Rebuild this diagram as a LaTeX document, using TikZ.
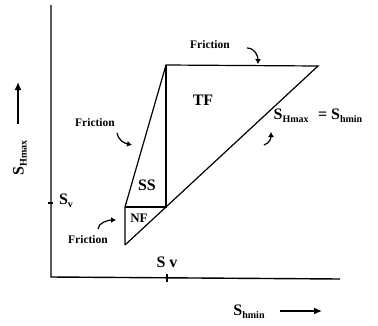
\documentclass[tikz,border=0pt]{standalone}
\usepackage{fontspec}
\setmainfont{Liberation Serif}
\usetikzlibrary{arrows.meta}
\newcommand{\lowsub}[1]{{\fontsize{10}{11}\selectfont\raisebox{-3pt}{#1}}}

\begin{document}
\begin{tikzpicture}[x=1pt,y=-1pt, every node/.style={font=\bfseries\fontsize{13}{15}\selectfont,inner sep=0pt},
  ax/.style={line width=1.4pt}, ln/.style={line width=1.2pt},
  axarr/.style={line width=1.4pt,-{Latex[length=8pt,width=7pt]}},
  farr/.style={line width=1.2pt,-{Latex[length=5pt,width=6pt]}},
  big/.style={font=\bfseries\fontsize{16}{18}\selectfont}, fric/.style={font=\bfseries\fontsize{11.5}{13}\selectfont}]
\useasboundingbox (0,0) rectangle (378,325);
% axes
\coordinate (O) at (51,277); \coordinate (ytop) at (51,5); \coordinate (xend) at (340,279);
\draw[ax] (ytop)--(O)--(xend);
\coordinate (tx) at (167,278); \coordinate (ty) at (51,203);
\draw[ln] (tx)++(0,-4)--++(0,8); \draw[ln] (ty)++(-3,0)--++(5,0);
% stress polygon
\coordinate (A) at (125,245); \coordinate (B) at (125,207); \coordinate (C) at (166,65);
\coordinate (D) at (318,66); \coordinate (E) at (166,207);
\draw[ln] (A)--(B)--(C)--(D)--(A); \draw[ln] (C)--(E)--(B);
% regime labels
\node[big] (tf) at (203,100) {TF};
\node[big] (ss) at (147,185) {SS};
\node (nf) at (139,218) {NF};
\node[big] (sv1) at (66,201) {S\lowsub{v}};
\node[big] (sv2) at (167,262) {S v};
\node[big] (eq) at (318,116) {S\lowsub{Hmax}\,\, = S\lowsub{hmin}};
% friction notes
\node[fric] (fr1) at (210,45) {Friction};
\node[fric] (fr2) at (95,123) {Friction};
\node[fric] (fr3) at (88,240) {Friction};
\coordinate (f1s) at (247,48); \coordinate (f1e) at (258,64);
\coordinate (f2s) at (117,133); \coordinate (f2e) at (132,145);
\coordinate (f3s) at (98,229); \coordinate (f3e) at (116,220);
\coordinate (f4s) at (264,145); \coordinate (f4e) at (271,132);
\draw[farr] (f1s) .. controls +(8,0) and +(0,-8) .. (f1e);
\draw[farr] (f2s) .. controls +(2,8) and +(-8,-2) .. (f2e);
\draw[farr] (f3s) .. controls +(0,-6) and +(-8,0) .. (f3e);
\draw[farr] (f4s) .. controls +(6,-2) and +(0,6) .. (f4e);
% axis labels
\node[big] (xlab) at (249,312) {S\lowsub{hmin}};
\coordinate (xa1) at (280,311); \coordinate (xa2) at (322,311); \draw[axarr] (xa1)--(xa2);
\node[big,rotate=90] (ylab) at (20,158) {S\lowsub{Hmax}};
\coordinate (ya1) at (18,124); \coordinate (ya2) at (18,82); \draw[axarr] (ya1)--(ya2);
\end{tikzpicture}
\end{document}
